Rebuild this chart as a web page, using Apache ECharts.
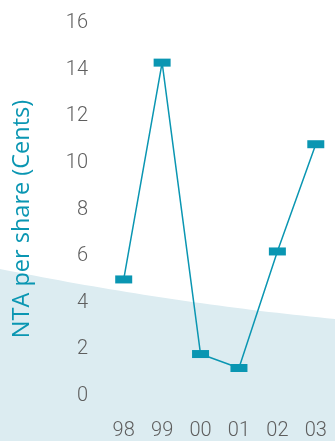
<!DOCTYPE html>
<html>
<head>
<meta charset="utf-8">
<script src="https://cdn.jsdelivr.net/npm/echarts@6/dist/echarts.min.js"></script>
<style>
html,body{margin:0;padding:0;background:#fff;}
#chart{width:335px;height:441px;}
</style>
</head>
<body>
<div id="chart"></div>
<script>
// Net tangible assets per share, by financial year
const years = ['98', '99', '00', '01', '02', '03'];
const ntaCents = [5.0, 14.3, 1.8, 1.2, 6.2, 10.8];
const yTicks = { min: 0, max: 16, step: 2 };

const teal = '#0a96b2';

// Soft backdrop band: a gently curving top edge traced as a polygon
function backdropPoints() {
  const p0 = [0, 269], c = [170, 303], p2 = [335, 319];
  const pts = [];
  for (let i = 0; i <= 40; i++) {
    const t = i / 40, u = 1 - t;
    pts.push([
      u * u * p0[0] + 2 * u * t * c[0] + t * t * p2[0],
      u * u * p0[1] + 2 * u * t * c[1] + t * t * p2[1]
    ]);
  }
  pts.push([335, 441], [0, 441]);
  return pts;
}

const chart = echarts.init(document.getElementById('chart'), null, { renderer: 'canvas' });

const tickFont = {
  color: '#5e5e5e',
  fontSize: 20,
  fontFamily: 'Roboto',
  fontWeight: 300
};

chart.setOption({
  backgroundColor: '#ffffff',
  animation: false,
  grid: { left: 104.5, top: 23, width: 235, bottom: 41.5 },
  graphic: [
    {
      type: 'polygon',
      z: -10,
      silent: true,
      shape: { points: backdropPoints() },
      style: { fill: '#dcecf1' }
    },
    {
      type: 'text',
      x: 22,
      y: 219,
      rotation: Math.PI / 2,
      style: {
        text: 'NTA per share (Cents)',
        fill: teal,
        font: '500 23.5px "Open Sans", Arial, sans-serif',
        align: 'center',
        verticalAlign: 'middle'
      }
    }
  ],
  xAxis: {
    type: 'category',
    data: years,
    boundaryGap: true,
    axisLine: { show: false },
    axisTick: { show: false },
    axisLabel: Object.assign({ margin: 25 }, tickFont)
  },
  yAxis: {
    type: 'value',
    min: yTicks.min,
    max: yTicks.max,
    interval: yTicks.step,
    axisLine: { show: false },
    axisTick: { show: false },
    splitLine: { show: false },
    axisLabel: Object.assign({ margin: 16.5 }, tickFont)
  },
  series: [{
    type: 'line',
    data: ntaCents,
    symbol: 'rect',
    symbolSize: [17, 8],
    showAllSymbol: true,
    lineStyle: { color: teal, width: 1.5 },
    itemStyle: { color: teal }
  }]
});
</script>
</body>
</html>
